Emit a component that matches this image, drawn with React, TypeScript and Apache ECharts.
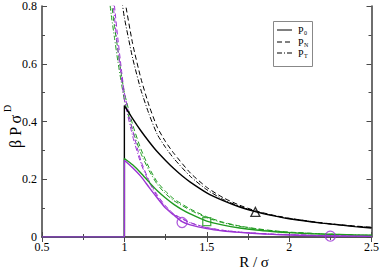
import React, { useEffect, useRef } from "react";
import * as echarts from "echarts";

// ---- data ----
const rSolid = [1.0, 1.05, 1.1, 1.15, 1.2, 1.25, 1.3, 1.35, 1.4, 1.5, 1.6, 1.7, 1.8, 1.9, 2.0, 2.2, 2.4, 2.5];
const p0Black = [0.455, 0.41, 0.368, 0.33, 0.295, 0.265, 0.237, 0.212, 0.19, 0.153, 0.126, 0.104, 0.087, 0.074, 0.063, 0.048, 0.036, 0.031];
const p0Green = [0.272, 0.25, 0.222, 0.19, 0.16, 0.135, 0.113, 0.095, 0.08, 0.055, 0.041, 0.031, 0.024, 0.019, 0.015, 0.01, 0.007, 0.006];
const p0Purple = [0.266, 0.24, 0.21, 0.172, 0.135, 0.1, 0.076, 0.053, 0.042, 0.029, 0.021, 0.016, 0.012, 0.009, 0.007, 0.004, 0.003, 0.002];

const rDashed = [0.9, 0.92, 0.94, 0.96, 0.98, 1.0, 1.05, 1.1, 1.15, 1.2, 1.25, 1.3, 1.4, 1.5, 1.6, 1.7, 1.8, 1.9, 2.0, 2.2, 2.4, 2.5];
const pnBlack = [1.4, 1.25, 1.12, 1.0, 0.91, 0.83, 0.67, 0.55, 0.455, 0.38, 0.33, 0.29, 0.222, 0.172, 0.136, 0.11, 0.09, 0.076, 0.065, 0.049, 0.038, 0.034];
const ptBlack = [1.3, 1.15, 1.03, 0.93, 0.84, 0.76, 0.62, 0.51, 0.425, 0.355, 0.31, 0.272, 0.21, 0.164, 0.13, 0.106, 0.088, 0.075, 0.064, 0.048, 0.037, 0.033];
const pnGreen = [0.93, 0.82, 0.73, 0.65, 0.57, 0.5, 0.39, 0.305, 0.24, 0.19, 0.158, 0.132, 0.097, 0.07, 0.051, 0.038, 0.029, 0.022, 0.017, 0.011, 0.007, 0.006];
const ptGreen = [0.87, 0.77, 0.69, 0.61, 0.54, 0.475, 0.37, 0.29, 0.23, 0.182, 0.15, 0.126, 0.093, 0.067, 0.049, 0.037, 0.028, 0.021, 0.016, 0.011, 0.007, 0.006];
const pnPurple = [1.05, 0.92, 0.8, 0.69, 0.59, 0.5, 0.37, 0.265, 0.195, 0.145, 0.108, 0.08, 0.05, 0.033, 0.023, 0.017, 0.013, 0.01, 0.008, 0.005, 0.003, 0.002];
const ptPurple = [1.0, 0.87, 0.76, 0.65, 0.56, 0.475, 0.35, 0.255, 0.19, 0.14, 0.104, 0.078, 0.049, 0.032, 0.023, 0.017, 0.013, 0.01, 0.008, 0.005, 0.003, 0.002];

const markBlack = [[1.795, 0.087]];
const markGreen = [[1.5, 0.053]];
const markPurple = [[1.35, 0.05], [2.25, 0.003]];

const xTicks = { min: 0.5, max: 2.5, step: 0.5 };
const yTicks = { min: 0, max: 0.8, step: 0.2 };
const legendLabels = ["0", "N", "T"];

const BLACK = "#000000";
const GREEN = "#1f9a1f";
const PURPLE = "#9b35d3";
const FONT = "Liberation Serif";

function pairs(xs: number[], ys: number[]) {
  return xs.map((x, i) => [x, ys[i]]);
}
function solidPairs(ys: number[]) {
  return [[0.5, 0], [1.0, 0], ...pairs(rSolid, ys)];
}

export default function App() {
  const ref = useRef<HTMLDivElement>(null);
  useEffect(() => {
    document.body.style.margin = "0";
    const chart = echarts.init(ref.current!, undefined, { renderer: "svg" });
    const axisLine = { show: true, lineStyle: { color: "#4a4a4a", width: 1.6 } };
    const tick = { show: true, inside: true, length: 5, lineStyle: { color: "#4a4a4a", width: 1 } };
    const minor = { show: true, splitNumber: 2, length: 3, lineStyle: { color: "#4a4a4a", width: 1 } };
    const label = { fontFamily: FONT, fontSize: 12, color: "#000" };
    const solid = (name: string, ys: number[], color: string) => ({
      name, type: "line", data: solidPairs(ys), showSymbol: false, smooth: 0.2,
      lineStyle: { color, width: 1.4 }, z: 3,
    });
    const dashed = (name: string, ys: number[], color: string, dash: number[]) => ({
      name, type: "line", data: pairs(rDashed, ys), showSymbol: false, smooth: 0.2,
      lineStyle: { color, width: 1, type: dash }, z: 2,
    });
    const marks = (data: number[][], symbol: string, color: string, size: number) => ({
      type: "scatter", data, symbol, symbolSize: size, z: 4,
      itemStyle: { color: "rgba(0,0,0,0)", borderColor: color, borderWidth: 1.3 },
    });
    const dashN = [5, 3];
    const dashT = [5, 2, 1, 2];
    const legendY = [30, 42, 53];
    const legendDash: any[] = ["solid", dashN, dashT];
    const graphic: any[] = [
      {
        type: "group", x: 15, y: 148, rotation: Math.PI / 2,
        children: [
          { type: "text", x: 0, y: 0, style: { text: "β P σ", fontFamily: FONT, fontSize: 16, fill: "#000", textAlign: "left", textVerticalAlign: "middle" } },
          { type: "text", x: 36, y: -8, style: { text: "D", fontFamily: FONT, fontSize: 10, fill: "#000", textAlign: "left", textVerticalAlign: "middle" } },
        ],
      },
      { type: "text", x: 254, y: 262, style: { text: "R / σ", fontFamily: FONT, fontSize: 15, fill: "#000", textAlign: "center", textVerticalAlign: "middle" } },
      { type: "rect", shape: { x: 273.5, y: 21.5, width: 39, height: 45 }, style: { fill: "#fff", stroke: "#888", lineWidth: 1 }, z: 10 },
    ];
    legendLabels.forEach((lab, i) => {
      graphic.push({
        type: "line", shape: { x1: 277, y1: legendY[i], x2: 292, y2: legendY[i] },
        style: { stroke: "#000", lineWidth: 1, lineDash: legendDash[i] === "solid" ? null : legendDash[i] }, z: 11,
      });
      graphic.push({ type: "text", x: 298, y: legendY[i], style: { text: "P", fontFamily: FONT, fontSize: 10, fill: "#000", textVerticalAlign: "middle" }, z: 11 });
      graphic.push({ type: "text", x: 304, y: legendY[i] + 3, style: { text: lab, fontFamily: FONT, fontSize: 6, fill: "#000", textVerticalAlign: "middle" }, z: 11 });
    });
    chart.setOption({
      animation: false,
      backgroundColor: "#fff",
      grid: { left: 42, right: 8, top: 5, bottom: 33 },
      xAxis: [
        { type: "value", min: xTicks.min, max: xTicks.max, interval: xTicks.step, position: "bottom",
          axisLine, axisTick: tick, minorTick: minor, splitLine: { show: false }, axisLabel: { ...label, margin: 4 } },
        { type: "value", min: xTicks.min, max: xTicks.max, interval: xTicks.step, position: "top",
          axisLine, axisTick: tick, minorTick: minor, splitLine: { show: false }, axisLabel: { show: false } },
      ],
      yAxis: [
        { type: "value", min: yTicks.min, max: yTicks.max, interval: yTicks.step, position: "left",
          axisLine, axisTick: tick, minorTick: minor, splitLine: { show: false }, axisLabel: { ...label, margin: 5 } },
        { type: "value", min: yTicks.min, max: yTicks.max, interval: yTicks.step, position: "right",
          axisLine, axisTick: tick, minorTick: minor, splitLine: { show: false }, axisLabel: { show: false } },
      ],
      graphic,
      series: [
        dashed("PN black", pnBlack, BLACK, dashN),
        dashed("PT black", ptBlack, BLACK, dashT),
        dashed("PN green", pnGreen, GREEN, dashN),
        dashed("PT green", ptGreen, GREEN, dashT),
        dashed("PN purple", pnPurple, PURPLE, dashN),
        dashed("PT purple", ptPurple, PURPLE, dashT),
        solid("P0 black", p0Black, BLACK),
        solid("P0 green", p0Green, GREEN),
        solid("P0 purple", p0Purple, PURPLE),
        marks(markBlack, "triangle", BLACK, 9),
        marks(markGreen, "rect", GREEN, 8),
        marks(markPurple, "circle", PURPLE, 10),
      ],
    });
    return () => chart.dispose();
  }, []);
  return <div ref={ref} style={{ width: 382, height: 270, position: "absolute", left: 0, top: 0 }} />;
}
